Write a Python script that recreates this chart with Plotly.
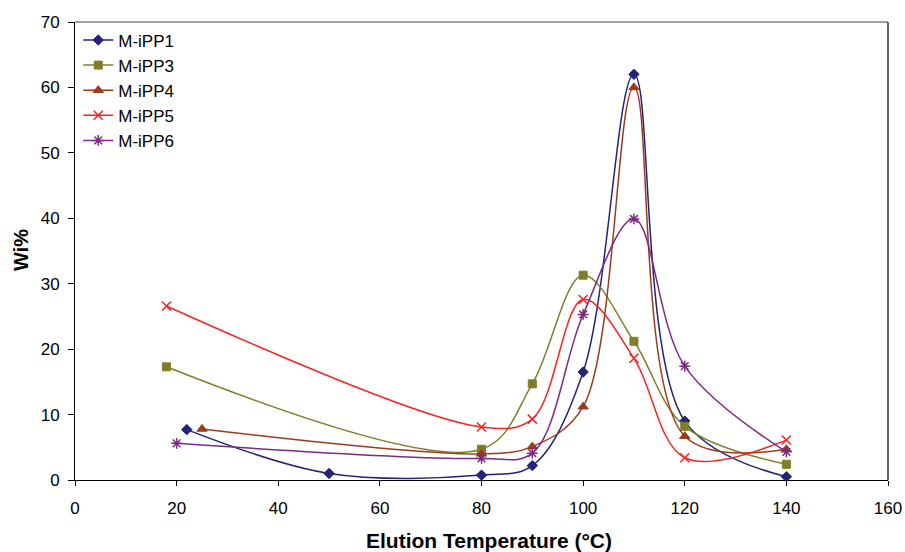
import plotly.graph_objects as go

# Elution temperature (°C) and weight fraction Wi% per sample
temp_ipp1 = [22, 50, 80, 90, 100, 110, 120, 140]
wi_ipp1 = [7.7, 1.0, 0.75, 2.2, 16.5, 62.0, 9.0, 0.5]

temp_ipp3 = [18, 80, 90, 100, 110, 120, 140]
wi_ipp3 = [17.3, 4.7, 14.7, 31.3, 21.2, 8.2, 2.4]

temp_ipp4 = [25, 80, 90, 100, 110, 120, 140]
wi_ipp4 = [7.8, 4.0, 5.1, 11.2, 60.0, 6.7, 4.7]

temp_ipp5 = [18, 80, 90, 100, 110, 120, 140]
wi_ipp5 = [26.6, 8.1, 9.3, 27.6, 18.6, 3.4, 6.1]

temp_ipp6 = [20, 80, 90, 100, 110, 120, 140]
wi_ipp6 = [5.6, 3.3, 4.1, 25.3, 39.9, 17.4, 4.3]

x_ticks = [0, 20, 40, 60, 80, 100, 120, 140, 160]
y_ticks = [0, 10, 20, 30, 40, 50, 60, 70]

series = [
    ("M-iPP1", temp_ipp1, wi_ipp1, "#232378", "diamond", 8, 1),
    ("M-iPP3", temp_ipp3, wi_ipp3, "#7F7F2A", "square", 8, 1),
    ("M-iPP4", temp_ipp4, wi_ipp4, "#9E3A1C", "triangle-up", 9, 1),
    ("M-iPP5", temp_ipp5, wi_ipp5, "#FF2020", "x-thin-open", 9, 1.5),
    ("M-iPP6", temp_ipp6, wi_ipp6, "#7B2A84", "asterisk-open", 9, 1.5),
]

FONT = "Liberation Sans, Arial, sans-serif"

fig = go.Figure()
for name, xs, ys, color, symbol, size, lw in series:
    fig.add_trace(go.Scatter(
        x=xs, y=ys, name=name, mode="lines+markers",
        line=dict(color=color, width=1.5, shape="spline", smoothing=1.0),
        marker=dict(symbol=symbol, size=size, color=color,
                    line=dict(color=color, width=lw)),
    ))

axis_font = dict(family=FONT, size=17, color="#000000")

fig.update_layout(
    width=905, height=552,
    margin=dict(l=75, r=17, t=22, b=72),
    paper_bgcolor="white", plot_bgcolor="white",
    font=dict(family=FONT, color="#000000"),
    showlegend=True,
    legend=dict(
        x=0.004, y=0.999, xanchor="left", yanchor="top",
        font=dict(family=FONT, size=17, color="#000000"),
        bgcolor="rgba(255,255,255,0)",
        itemwidth=30,
    ),
    xaxis=dict(
        range=[0, 160], tickvals=x_ticks, ticks="outside", ticklen=5,
        tickcolor="#000000", showline=True, linecolor="#000000", linewidth=1,
        showgrid=False, zeroline=False, tickfont=axis_font,
        ticklabelstandoff=8, automargin=False,
    ),
    yaxis=dict(
        range=[0, 70], tickvals=y_ticks, ticks="outside", ticklen=6,
        tickcolor="#000000", showline=True, linecolor="#000000", linewidth=1,
        showgrid=False, zeroline=False, tickfont=axis_font,
        ticklabelstandoff=5, automargin=False,
    ),
    annotations=[
        dict(text="<b>Elution Temperature (°C)</b>", xref="paper", yref="paper",
             x=0.5098, y=-0.132, xanchor="center", yanchor="middle",
             showarrow=False, font=dict(family=FONT, size=21, color="#000000")),
        dict(text="<b>Wi%</b>", xref="paper", yref="paper",
             x=-0.0664, y=0.502, xanchor="center", yanchor="middle",
             textangle=-90, showarrow=False,
             font=dict(family=FONT, size=20, color="#000000")),
    ],
)

# Plot-area frame: grey top edge, dark right edge
fig.add_shape(type="line", xref="paper", yref="paper", x0=0, x1=1, y0=1, y1=1,
              line=dict(color="#808080", width=1.5))
fig.add_shape(type="line", xref="paper", yref="paper", x0=1, x1=1, y0=0, y1=1,
              line=dict(color="#333333", width=1.5))

fig.write_html("out.html")
